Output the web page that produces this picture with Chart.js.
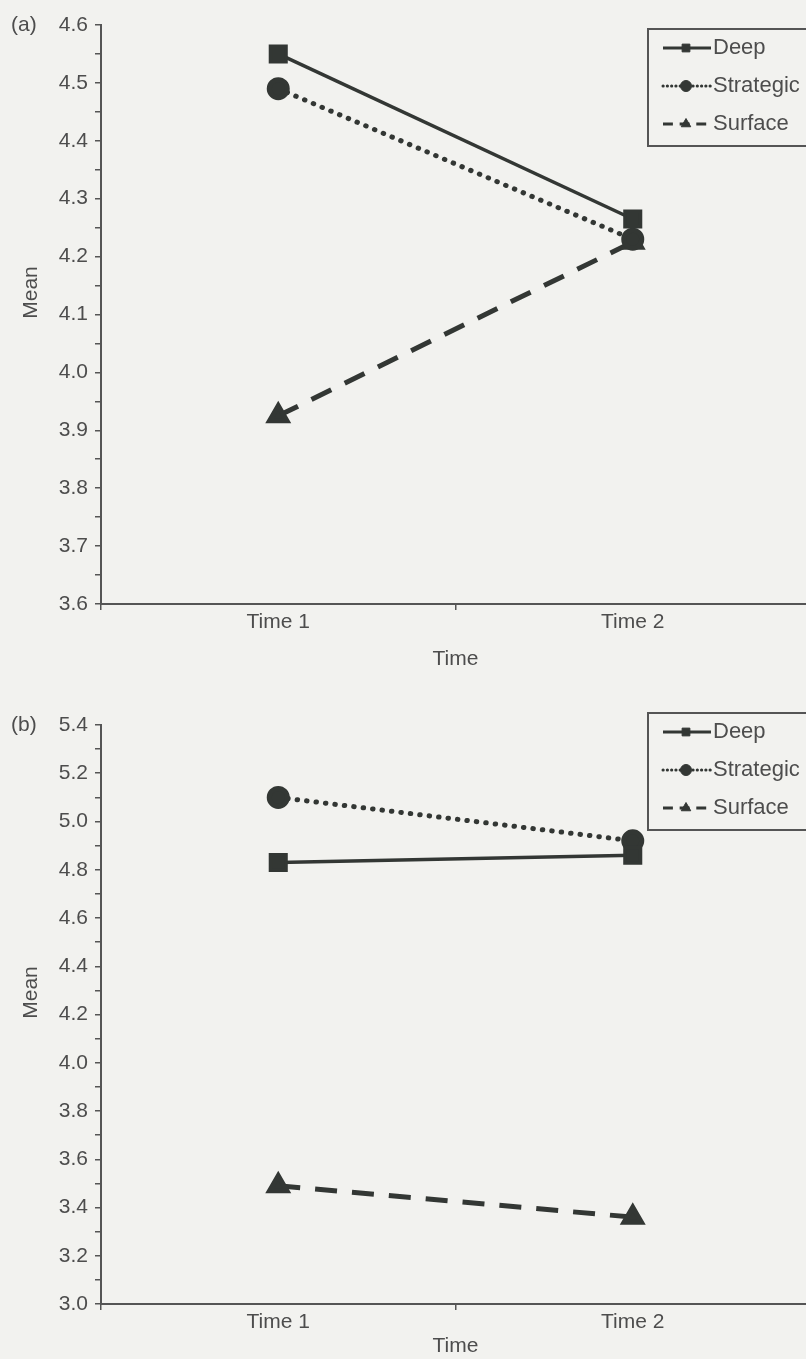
<!DOCTYPE html>
<html>
<head>
<meta charset="utf-8">
<script src="https://cdn.jsdelivr.net/npm/chart.js@4"></script>
<style>
  html, body { margin: 0; padding: 0; background: #f2f2ef; }
  #wrap { width: 806px; height: 1359px; overflow: hidden; position: relative; }
  canvas { display: block; }
</style>
</head>
<body>
<div id="wrap">
  <canvas id="chartA" width="825" height="680"></canvas>
  <canvas id="chartB" width="825" height="679"></canvas>
</div>
<script>
// categories and values
const times = ["Time 1", "Time 2"];

const deepA = [4.55, 4.265];
const strategicA = [4.49, 4.23];
const surfaceA = [3.925, 4.225];

const deepB = [4.83, 4.86];
const strategicB = [5.10, 4.92];
const surfaceB = [3.49, 3.36];

const yLabelsA = ["3.6", "3.7", "3.8", "3.9", "4.0", "4.1", "4.2", "4.3", "4.4", "4.5", "4.6"];
const yLabelsB = ["3.0", "3.2", "3.4", "3.6", "3.8", "4.0", "4.2", "4.4", "4.6", "4.8", "5.0", "5.2", "5.4"];

const ink = "#333734";
const textColor = "#4d4d4d";
const fontFamily = '"Liberation Sans", Arial, sans-serif';

Chart.defaults.font.family = fontFamily;
Chart.defaults.font.size = 21;
Chart.defaults.color = textColor;

function makeDatasets(deep, strategic, surface) {
    return [
        {
            label: "Deep", data: deep,
            borderColor: ink, borderWidth: 3.5,
            pointStyle: "rect", pointRadius: 11,
            pointBackgroundColor: ink, pointBorderColor: ink
        },
        {
            label: "Strategic", data: strategic,
            borderColor: ink, borderWidth: 5,
            borderDash: [0.5, 9], borderCapStyle: "round",
            pointStyle: "circle", pointRadius: 9,
            pointBackgroundColor: ink, pointBorderColor: ink
        },
        {
            label: "Surface", data: surface,
            borderColor: ink, borderWidth: 5,
            borderDash: [22, 15],
            pointStyle: "triangle", pointRadius: 10,
            pointBackgroundColor: ink, pointBorderColor: ink
        }
    ];
}

// legend box drawn like the printed one: line - marker - line, then the name
const boxLegend = {
    id: "boxLegend",
    afterDraw(chart, args, opts) {
        const ctx = chart.ctx;
        ctx.save();
        ctx.strokeStyle = "#555";
        ctx.lineWidth = 2;
        ctx.strokeRect(opts.x, opts.y, 200, opts.h);
        ctx.font = "22px " + fontFamily;
        ctx.textBaseline = "middle";
        chart.data.datasets.forEach((ds, i) => {
            const y = opts.y + 19 + i * 38;
            ctx.strokeStyle = ds.borderColor;
            ctx.lineWidth = Math.min(ds.borderWidth, 3);
            ctx.lineCap = ds.borderCapStyle || "butt";
            ctx.setLineDash(ds.borderDash ? ds.borderDash.map(d => d * 0.45) : []);
            ctx.beginPath();
            ctx.moveTo(opts.x + 15, y);
            ctx.lineTo(opts.x + 63, y);
            ctx.stroke();
            ctx.setLineDash([]);
            ctx.lineCap = "butt";
            ctx.fillStyle = ds.pointBackgroundColor;
            ctx.lineWidth = 1;
            Chart.helpers.drawPoint(ctx, { pointStyle: ds.pointStyle, radius: 5.5, borderWidth: 1, rotation: 0 },
                opts.x + 38, y);
            ctx.fillStyle = textColor;
            ctx.fillText(ds.label, opts.x + 65, y);
        });
        ctx.restore();
    }
};

// panel letter and the "Mean" title
const panelText = {
    id: "panelText",
    afterDraw(chart, args, opts) {
        const ctx = chart.ctx;
        const area = chart.chartArea;
        ctx.save();
        ctx.fillStyle = textColor;
        ctx.font = "21px " + fontFamily;
        ctx.textBaseline = "middle";
        ctx.fillText(opts.letter, 11, area.top);
        ctx.translate(31, area.top + (area.bottom - area.top) * 0.462);
        ctx.rotate(-Math.PI / 2);
        ctx.textAlign = "center";
        ctx.fillText("Mean", 0, 0);
        ctx.restore();
    }
};

function makeChart(id, datasets, yMin, yMax, yStep, yLabels, opts) {
    return new Chart(document.getElementById(id), {
        type: "line",
        data: { labels: times, datasets },
        options: {
            responsive: false,
            animation: false,
            layout: { padding: { top: opts.top, left: 0, right: 0, bottom: 0 } },
            plugins: {
                legend: { display: false },
                tooltip: { enabled: false },
                boxLegend: { x: 648, y: opts.legendY, h: 117 },
                panelText: { letter: opts.letter }
            },
            scales: {
                x: {
                    offset: true,
                    afterFit: (s) => { s.height = opts.xHeight; },
                    grid: { offset: true, drawOnChartArea: false, tickLength: 6, color: "#555", lineWidth: 1.5 },
                    border: { display: true, color: "#555", width: 2 },
                    ticks: { padding: 0, color: textColor },
                    title: { display: true, text: "Time", color: textColor, padding: { top: 0, bottom: opts.titlePad } }
                },
                y: {
                    min: yMin, max: yMax,
                    afterFit: (s) => { s.width = 101; },
                    grid: { drawOnChartArea: false, tickLength: 6, color: "#555", lineWidth: 1.5 },
                    border: { display: true, color: "#555", width: 2 },
                    ticks: {
                        stepSize: yStep,
                        autoSkip: false,
                        padding: 7,
                        color: textColor,
                        callback: (value) => {
                            const hit = yLabels.find(l => Math.abs(parseFloat(l) - value) < 1e-6);
                            return hit === undefined ? "" : hit;
                        }
                    }
                }
            }
        },
        plugins: [boxLegend, panelText]
    });
}

makeChart("chartA", makeDatasets(deepA, strategicA, surfaceA), 3.6, 4.6, 0.05, yLabelsA,
    { top: 25, xHeight: 76, titlePad: 8, legendY: 29, letter: "(a)" });

makeChart("chartB", makeDatasets(deepB, strategicB, surfaceB), 3.0, 5.4, 0.1, yLabelsB,
    { top: 45, xHeight: 55, titlePad: 0, legendY: 33, letter: "(b)" });
</script>
</body>
</html>
